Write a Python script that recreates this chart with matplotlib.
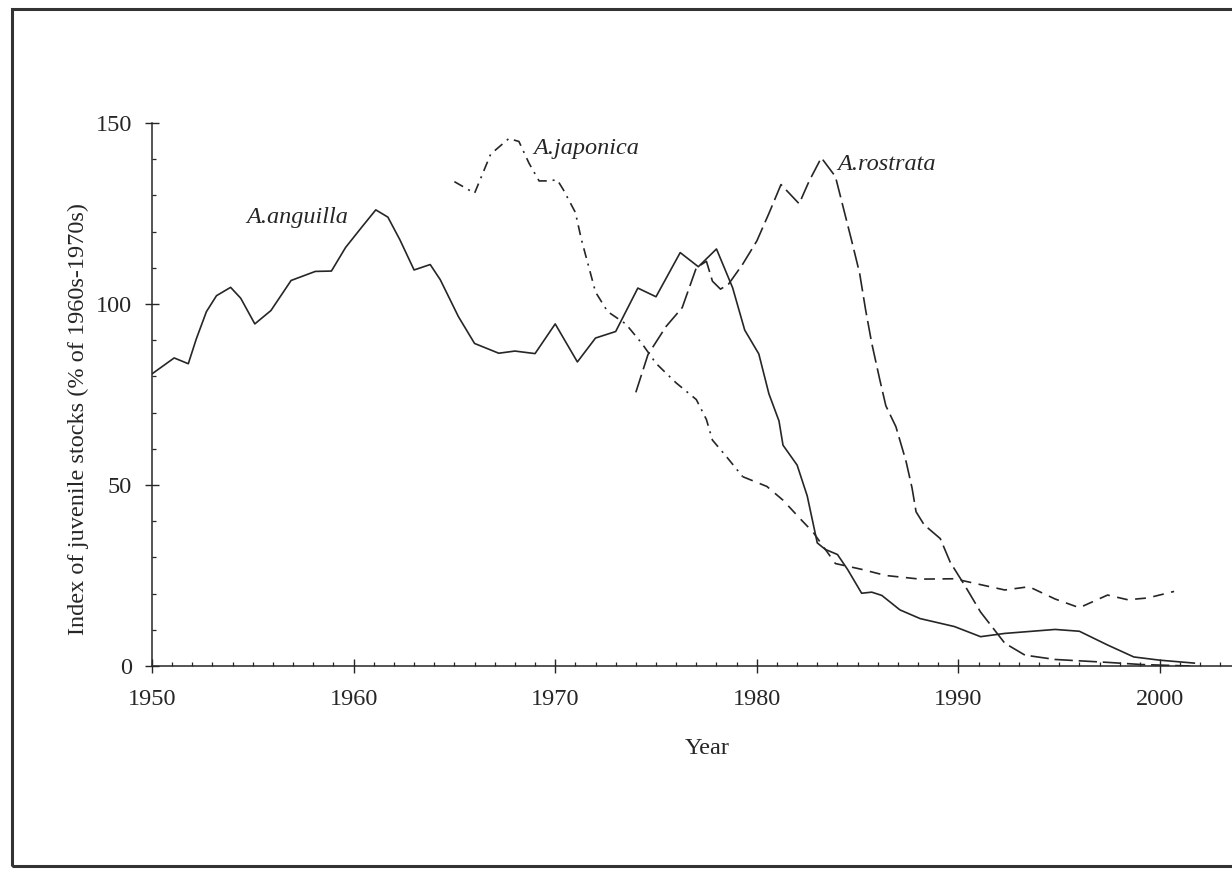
import matplotlib
matplotlib.use('Agg')
import matplotlib.pyplot as plt
from matplotlib.patches import Rectangle
from matplotlib.ticker import MultipleLocator

# A.anguilla (solid)
anguilla_year = [1950.0, 1951.1, 1951.8, 1952.2, 1952.7, 1953.2, 1953.9, 1954.4, 1955.1, 1955.9,
                 1956.9, 1958.1, 1958.9, 1959.6, 1960.4, 1961.1, 1961.7, 1962.3, 1963.0, 1963.8,
                 1964.3, 1965.2, 1966.0, 1967.2, 1968.0, 1969.0, 1970.0, 1971.1, 1972.0, 1973.0,
                 1974.1, 1975.0, 1976.2, 1977.1, 1978.0, 1978.8, 1979.4, 1980.1, 1980.6, 1981.1,
                 1981.3, 1982.0, 1982.5, 1983.0, 1983.4, 1984.0, 1984.5, 1985.2, 1985.7, 1986.2,
                 1987.1, 1988.1, 1989.8, 1991.1, 1992.3, 1994.8, 1996.0, 1997.4, 1998.7, 2000.0,
                 2001.7]
anguilla_index = [80.7, 85.1, 83.5, 90.4, 97.9, 102.3, 104.6, 101.6, 94.5, 98.2,
                  106.5, 109.0, 109.1, 115.6, 121.2, 126.0, 124.0, 117.7, 109.4, 110.9,
                  106.7, 96.5, 89.1, 86.4, 87.0, 86.3, 94.5, 84.0, 90.6, 92.4,
                  104.4, 102.0, 114.2, 110.3, 115.2, 104.5, 92.8, 86.2, 75.2, 67.7,
                  61.0, 55.5, 47.0, 34.0, 32.2, 30.8, 26.7, 20.1, 20.4, 19.5,
                  15.5, 13.1, 10.9, 8.1, 9.0, 10.1, 9.6, 5.8, 2.5, 1.6,
                  0.8]

# A.japonica (dash-dot, then dashed)
japonica_year = [1965.0, 1966.0, 1966.8, 1967.7, 1968.2, 1968.7, 1969.2, 1969.6, 1970.1, 1970.4,
                 1971.0, 1971.3, 1971.6, 1972.0, 1972.6, 1973.5, 1974.3, 1975.0, 1976.0, 1977.0,
                 1977.5, 1977.8, 1978.5, 1979.3, 1980.5, 1981.3, 1982.2, 1982.8, 1983.9, 1985.2,
                 1986.4, 1988.1, 1989.8, 1991.0, 1992.3, 1993.5, 1994.8, 1996.0, 1997.4, 1998.4,
                 1999.4, 2000.7]
japonica_index = [133.8, 130.6, 141.4, 145.7, 144.9, 138.9, 134.0, 134.0, 134.3, 131.6,
                  125.3, 117.8, 111.6, 103.3, 97.9, 94.5, 89.1, 83.6, 78.2, 73.6,
                  68.1, 62.4, 57.8, 52.3, 49.6, 45.8, 40.4, 36.9, 28.3, 26.7,
                  25.0, 24.0, 24.1, 22.6, 21.0, 21.9, 18.5, 16.1, 19.6, 18.3,
                  18.8, 20.6]

# A.rostrata (long dash)
rostrata_year = [1974.0, 1974.6, 1975.5, 1976.3, 1977.0, 1977.5, 1977.8, 1978.2, 1978.6, 1979.3,
                 1980.0, 1980.6, 1981.2, 1982.1, 1982.6, 1983.2, 1983.9, 1984.4, 1984.7, 1985.1,
                 1985.4, 1985.7, 1986.1, 1986.4, 1986.9, 1987.4, 1987.7, 1987.9, 1988.3, 1989.1,
                 1989.6, 1990.3, 1991.1, 1992.3, 1993.3, 1994.8, 1997.4, 1999.1, 2001.5]
rostrata_index = [75.6, 86.0, 93.8, 99.0, 110.0, 111.8, 106.3, 104.1, 105.5, 111.0,
                  117.4, 125.0, 133.0, 127.7, 134.0, 140.4, 135.2, 124.2, 117.6, 108.5,
                  98.3, 89.2, 79.1, 71.9, 66.1, 56.6, 49.2, 42.6, 39.0, 35.2,
                  28.6, 22.4, 14.9, 6.3, 3.0, 1.8, 1.0, 0.4, 0.0]

x_ticks = [1950, 1960, 1970, 1980, 1990, 2000]
y_ticks = [0, 50, 100, 150]

plt.rcParams['font.family'] = ['Liberation Serif', 'DejaVu Serif']
ink = '#262626'

fig = plt.figure(figsize=(12.32, 8.69), dpi=100)
ax = fig.add_axes([152 / 1232, 1 - 666 / 869, 1 - 152 / 1232, 543 / 869])

ax.plot(anguilla_year, anguilla_index, color=ink, lw=1.2, solid_joinstyle='round')

split = japonica_year.index(1979.3)
ax.plot(japonica_year[:split + 1], japonica_index[:split + 1], color=ink, lw=1.2,
        dashes=(6, 3.5, 1.2, 3.5))
ax.plot(japonica_year[split:], japonica_index[split:], color=ink, lw=1.2, dashes=(6.5, 4.5))

ax.plot(rostrata_year, rostrata_index, color=ink, lw=1.2, dashes=(11, 3.5))

# species labels
ax.text(1954.7, 122.5, 'A.anguilla', style='italic', fontsize=17.5, color=ink)
ax.text(1968.9, 141.5, 'A.japonica', style='italic', fontsize=17.5, color=ink)
ax.text(1984.0, 137.0, 'A.rostrata', style='italic', fontsize=17.5, color=ink)

ax.set_xlim(1950, 1950 + (1232 - 152) / 20.16)
ax.set_ylim(0, 150)
ax.set_xticks(x_ticks)
ax.set_yticks(y_ticks)
ax.xaxis.set_minor_locator(MultipleLocator(1))
ax.yaxis.set_minor_locator(MultipleLocator(10))
ax.tick_params(which='major', direction='inout', length=10.5, width=1.0, color=ink,
               labelsize=17.5, labelcolor=ink)
ax.tick_params(axis='x', which='major', pad=11)
ax.tick_params(axis='y', which='major', pad=9)
ax.tick_params(which='minor', direction='in', length=2.8, width=0.9, color=ink)

for side in ['top', 'right']:
    ax.spines[side].set_visible(False)
for side in ['left', 'bottom']:
    ax.spines[side].set_linewidth(1.1)
    ax.spines[side].set_color(ink)
ax.patch.set_alpha(0)

fig.text(707 / 1232, 1 - 749 / 869, 'Year', fontsize=17.5, color=ink, ha='center', va='center')
fig.text(78 / 1232, 1 - 419 / 869, 'Index of juvenile stocks (% of 1960s-1970s)', fontsize=17.5,
         color=ink, rotation=90, ha='center', va='center')

# scanned page frame
fig.patches.append(Rectangle((12 / 1232, 3 / 869), 1.1, 857 / 869, transform=fig.transFigure,
                             fill=False, lw=2.2, edgecolor='#333333'))

fig.savefig('out.png', dpi=100)
